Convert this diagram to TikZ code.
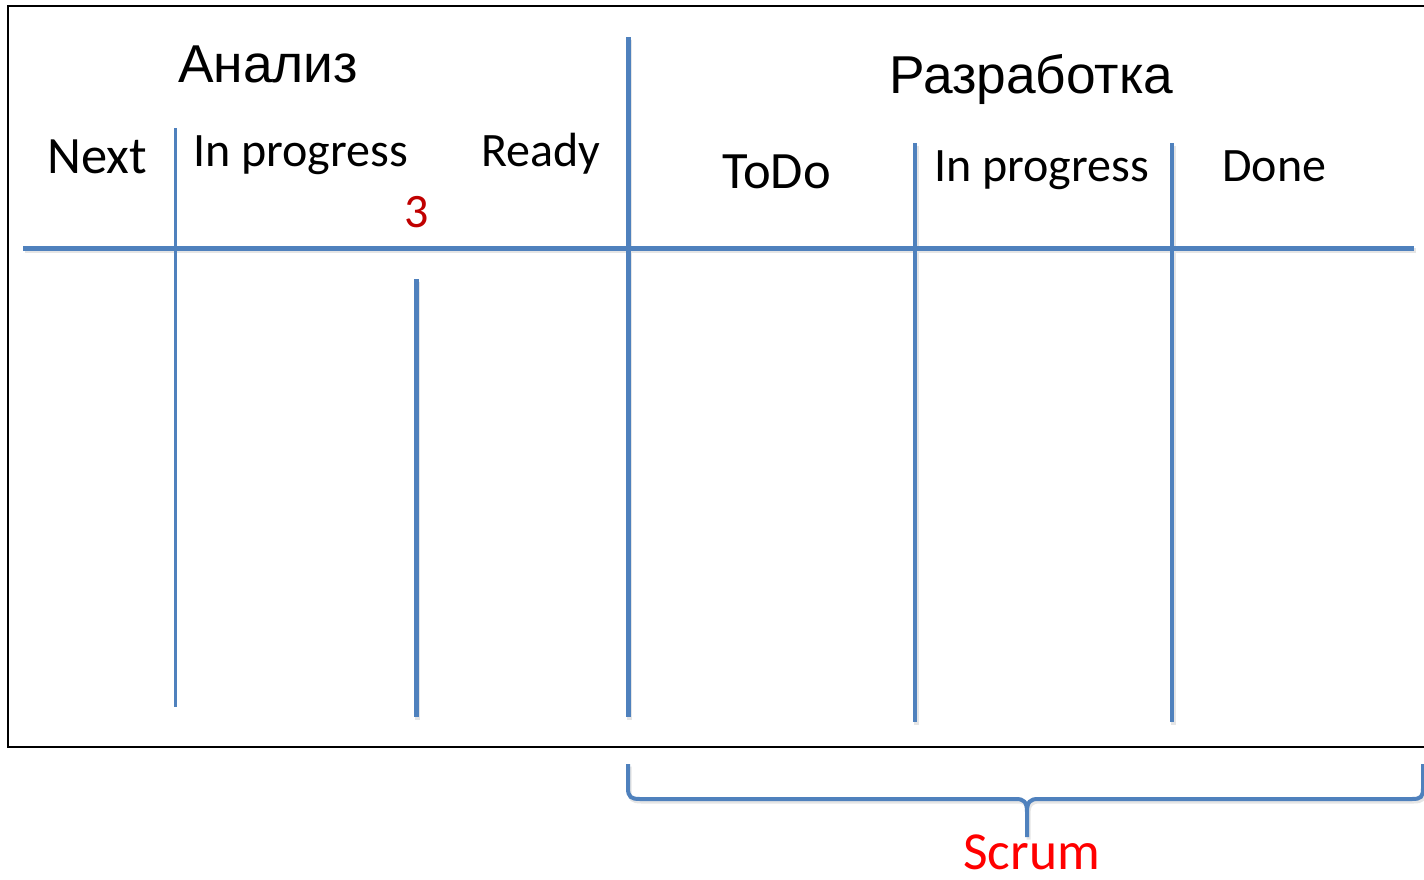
\documentclass[tikz,border=0pt]{standalone}
\usepackage{fontspec}
\setmainfont{Carlito}
\newfontfamily\arialfont{Liberation Sans}
\definecolor{lineblue}{HTML}{4F81BD}
\definecolor{darkred}{HTML}{C00000}
\begin{document}
\begin{tikzpicture}[x=1pt,y=-1pt,
  rule/.style={draw=lineblue,line width=5pt},
  thinrule/.style={draw=lineblue,line width=3pt},
  shade/.style={draw=black!10,line width=5pt},
  col/.style={inner sep=0pt,anchor=base west,font=\fontsize{48}{48}\selectfont},
  bigcol/.style={col,font=\fontsize{52.5}{52.5}\selectfont},
  head/.style={inner sep=0pt,anchor=base west,font=\arialfont\fontsize{53.3}{53.3}\selectfont}]
\useasboundingbox (0,0) rectangle (1424,879);
\fill[white] (0,0) rectangle (1424,879);
\begin{scope}
\clip (0,0) rectangle (1424,879);
% board frame
\draw[black,line width=2pt] (8,6) rectangle (1440,747);

% group headings
\node[head] (analysis) at (178,82) {Анализ};
\node[head] (dev) at (889,93) {Разработка};

% column headings
\node[bigcol] (next) at (47,173) {Next};
\node[col] (aprog) at (193,166) {In progress};
\node[col] (ready) at (481,166) {Ready};
\node[bigcol] (todo) at (722,188) {ToDo};
\node[col] (dprog) at (934,181) {In progress};
\node[col] (done) at (1222,181) {Done};
\node[col,text=darkred] (wip) at (404,227) {3};

% soft shadows under the rules
\begin{scope}[shade,shift={(1.5,2.5)}]
\draw (23,248) -- (1414,248);
\draw (416,279) -- (416,717);
\draw (628,37) -- (628,717);
\draw (915,143) -- (915,722);
\draw (1172,143) -- (1172,722);
\end{scope}

% board rules
\draw[rule] (23,248) -- (1414,248);
\draw[thinrule] (175,128) -- (175,707);
\draw[rule] (416,279) -- (416,717);
\draw[rule] (628,37) -- (628,717);
\draw[thinrule,line width=4pt] (915,143) -- (915,722);
\draw[thinrule,line width=4pt] (1172,143) -- (1172,722);

% brace under the development columns
\draw[draw=black!10,line width=4pt,shift={(1.5,2.5)}]
  (628,764) -- (628,788) .. controls (628,797) and (631,799) .. (640,799)
  -- (1016,799) .. controls (1024,799) and (1027,802) .. (1027,812) -- (1027,837)
  (1027,812) .. controls (1027,802) and (1030,799) .. (1038,799)
  -- (1412,799) .. controls (1421,799) and (1423,797) .. (1423,788) -- (1423,764);
\draw[draw=lineblue,line width=4pt]
  (628,764) -- (628,788) .. controls (628,797) and (631,799) .. (640,799)
  -- (1016,799) .. controls (1024,799) and (1027,802) .. (1027,812) -- (1027,837)
  (1027,812) .. controls (1027,802) and (1030,799) .. (1038,799)
  -- (1412,799) .. controls (1421,799) and (1423,797) .. (1423,788) -- (1423,764);
\end{scope}
\node[col,text=red,font=\fontsize{53.5}{53.5}\selectfont,text depth=0pt] (scrum) at (963,869) {Scrum};
\end{tikzpicture}
\end{document}
